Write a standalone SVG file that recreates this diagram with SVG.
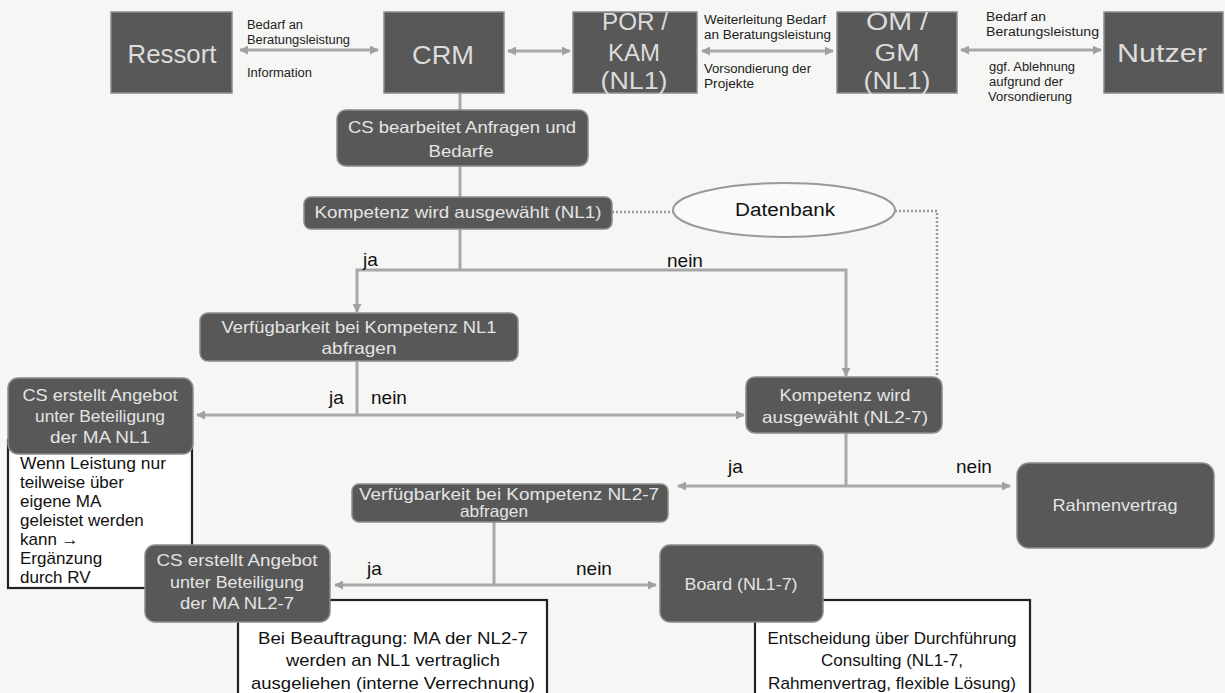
<svg xmlns="http://www.w3.org/2000/svg" width="1225" height="693" viewBox="0 0 1225 693">
<style>
.bg{fill:#f6f6f4}
.box{fill:#585858;stroke:#8c8c8c;stroke-width:1.5}
.big{font-family:"Liberation Sans",Arial,sans-serif;fill:#dcdcdc;text-anchor:middle}
.wt{font-family:"Liberation Sans",Arial,sans-serif;fill:#e4e4e4;text-anchor:middle;font-size:16.5px}
.lbl{font-family:"Liberation Sans",Arial,sans-serif;fill:#222;font-size:12.5px}
.yn{font-family:"Liberation Sans",Arial,sans-serif;fill:#111;font-size:19px}
.note{font-family:"Liberation Sans",Arial,sans-serif;fill:#111;font-size:17px}
.con{stroke:#a8a8a8;stroke-width:3;fill:none}
.dot{stroke:#999;stroke-width:2.5;fill:none;stroke-dasharray:2 2}
.nb{fill:#fff;stroke:#222;stroke-width:2.2}
</style>
<defs>
<marker id="ah" viewBox="0 0 10 10" refX="9" refY="5" markerWidth="3" markerHeight="3" orient="auto-start-reverse">
<path d="M0,0 L10,5 L0,10 z" fill="#a0a0a0"/>
</marker>
</defs>
<rect class="bg" x="0" y="0" width="1225" height="693"/>

<g id="connectors">
<line class="con" x1="240" y1="50" x2="378" y2="50" marker-start="url(#ah)" marker-end="url(#ah)"/>
<line class="con" x1="508" y1="51" x2="570" y2="51" marker-start="url(#ah)" marker-end="url(#ah)"/>
<line class="con" x1="702" y1="51" x2="833" y2="51" marker-start="url(#ah)" marker-end="url(#ah)"/>
<line class="con" x1="961" y1="50" x2="1101" y2="50" marker-start="url(#ah)" marker-end="url(#ah)"/>
<line class="con" x1="460" y1="93" x2="460" y2="110"/>
<line class="con" x1="460" y1="166" x2="460" y2="197"/>
<line class="con" x1="460" y1="229" x2="460" y2="270"/>
<polyline class="con" points="357,312 357,270 846,270 846,376" marker-start="url(#ah)" marker-end="url(#ah)"/>
<line class="con" x1="357" y1="362" x2="357" y2="415"/>
<line class="con" x1="197" y1="415" x2="744" y2="415" marker-start="url(#ah)" marker-end="url(#ah)"/>
<line class="con" x1="846" y1="433" x2="846" y2="486"/>
<line class="con" x1="678" y1="486" x2="1010" y2="486" marker-start="url(#ah)" marker-end="url(#ah)"/>
<line class="con" x1="494" y1="522" x2="494" y2="585"/>
<line class="con" x1="335" y1="585" x2="656" y2="585" marker-start="url(#ah)" marker-end="url(#ah)"/>
<line class="dot" x1="612" y1="212" x2="673" y2="212"/>
<polyline class="dot" points="895,211 937,211 937,377"/>
</g>

<g id="labels">
<text class="lbl" x="247" y="29" textLength="56" lengthAdjust="spacingAndGlyphs">Bedarf an</text>
<text class="lbl" x="247" y="44" textLength="103" lengthAdjust="spacingAndGlyphs">Beratungsleistung</text>
<text class="lbl" x="247" y="77" textLength="65" lengthAdjust="spacingAndGlyphs">Information</text>
<text class="lbl" x="704" y="24" textLength="122" lengthAdjust="spacingAndGlyphs">Weiterleitung Bedarf</text>
<text class="lbl" x="704" y="39" textLength="127" lengthAdjust="spacingAndGlyphs">an Beratungsleistung</text>
<text class="lbl" x="704" y="73" textLength="107" lengthAdjust="spacingAndGlyphs">Vorsondierung der</text>
<text class="lbl" x="704" y="88" textLength="50" lengthAdjust="spacingAndGlyphs">Projekte</text>
<text class="lbl" x="986" y="21" textLength="60" lengthAdjust="spacingAndGlyphs">Bedarf an</text>
<text class="lbl" x="986" y="36" textLength="113" lengthAdjust="spacingAndGlyphs">Beratungsleistung</text>
<text class="lbl" x="989" y="71" textLength="86" lengthAdjust="spacingAndGlyphs">ggf. Ablehnung</text>
<text class="lbl" x="989" y="86" textLength="74" lengthAdjust="spacingAndGlyphs">aufgrund der</text>
<text class="lbl" x="988" y="101" textLength="84" lengthAdjust="spacingAndGlyphs">Vorsondierung</text>
<text class="yn" x="363" y="266">ja</text>
<text class="yn" x="667" y="267">nein</text>
<text class="yn" x="329" y="404">ja</text>
<text class="yn" x="371" y="404">nein</text>
<text class="yn" x="728" y="473">ja</text>
<text class="yn" x="956" y="473">nein</text>
<text class="yn" x="367" y="575">ja</text>
<text class="yn" x="576" y="575">nein</text>
</g>

<g id="ressort"><rect class="box" x="111" y="12" width="121" height="81"/><text class="big" x="172" y="63" font-size="25" textLength="89" lengthAdjust="spacingAndGlyphs">Ressort</text></g>
<g id="crm"><rect class="box" x="384" y="12" width="120" height="81"/><text class="big" x="443" y="64" font-size="26" textLength="62" lengthAdjust="spacingAndGlyphs">CRM</text></g>
<g id="por"><rect class="box" x="573" y="12" width="124" height="81"/><text class="big" x="635" y="30" font-size="23" textLength="66" lengthAdjust="spacingAndGlyphs">POR /</text><text class="big" x="634" y="61" font-size="23" textLength="52" lengthAdjust="spacingAndGlyphs">KAM</text><text class="big" x="634" y="89" font-size="23" textLength="67" lengthAdjust="spacingAndGlyphs">(NL1)</text></g>
<g id="om"><rect class="box" x="837" y="12" width="120" height="81"/><text class="big" x="897" y="30" font-size="23" textLength="62" lengthAdjust="spacingAndGlyphs">OM /</text><text class="big" x="897" y="61" font-size="23" textLength="45" lengthAdjust="spacingAndGlyphs">GM</text><text class="big" x="897" y="89" font-size="23" textLength="67" lengthAdjust="spacingAndGlyphs">(NL1)</text></g>
<g id="nutzer"><rect class="box" x="1104" y="12" width="119" height="81"/><text class="big" x="1162" y="62" font-size="25" textLength="90" lengthAdjust="spacingAndGlyphs">Nutzer</text></g>

<g id="cs-bearbeitet"><rect class="box" x="337" y="110" width="251" height="56" rx="9"/><text class="wt" x="462" y="133" textLength="228" lengthAdjust="spacingAndGlyphs">CS bearbeitet Anfragen und</text><text class="wt" x="461" y="157" textLength="65" lengthAdjust="spacingAndGlyphs">Bedarfe</text></g>
<g id="kompetenz-nl1"><rect class="box" x="304" y="197" width="308" height="32" rx="7"/><text class="wt" x="458" y="218" textLength="287" lengthAdjust="spacingAndGlyphs">Kompetenz wird ausgewählt (NL1)</text></g>
<g id="datenbank"><ellipse cx="784" cy="210" rx="111" ry="27" fill="#fafafa" stroke="#999" stroke-width="2"/><text x="785" y="216" font-family="'Liberation Sans',Arial,sans-serif" font-size="18" fill="#111" text-anchor="middle" textLength="100" lengthAdjust="spacingAndGlyphs">Datenbank</text></g>

<g id="verf-nl1"><rect class="box" x="200" y="313" width="318" height="48" rx="8"/><text class="wt" x="359" y="333" textLength="275" lengthAdjust="spacingAndGlyphs">Verfügbarkeit bei Kompetenz NL1</text><text class="wt" x="359" y="354" textLength="75" lengthAdjust="spacingAndGlyphs">abfragen</text></g>
<g id="kompetenz-nl27"><rect class="box" x="746" y="377" width="196" height="56" rx="9"/><text class="wt" x="845" y="401" textLength="131" lengthAdjust="spacingAndGlyphs">Kompetenz wird</text><text class="wt" x="845" y="423" textLength="166" lengthAdjust="spacingAndGlyphs">ausgewählt (NL2-7)</text></g>

<g id="note-nl1"><rect class="nb" x="8" y="440" width="184" height="148"/>
<text class="note" x="20" y="469" textLength="146" lengthAdjust="spacingAndGlyphs">Wenn Leistung nur</text>
<text class="note" x="20" y="488">teilweise über</text>
<text class="note" x="20" y="507">eigene MA</text>
<text class="note" x="20" y="526">geleistet werden</text>
<text class="note" x="20" y="545">kann →</text>
<text class="note" x="20" y="564">Ergänzung</text>
<text class="note" x="20" y="583">durch RV</text></g>
<g id="cs-nl1"><rect class="box" x="8" y="378" width="185" height="76" rx="10"/><text class="wt" x="100" y="401" textLength="155" lengthAdjust="spacingAndGlyphs">CS erstellt Angebot</text><text class="wt" x="100" y="422" textLength="130" lengthAdjust="spacingAndGlyphs">unter Beteiligung</text><text class="wt" x="100" y="443" textLength="100" lengthAdjust="spacingAndGlyphs">der MA NL1</text></g>

<g id="verf-nl27"><rect class="box" x="352" y="484" width="316" height="38" rx="7"/><text class="wt" x="509" y="500" textLength="300" lengthAdjust="spacingAndGlyphs">Verfügbarkeit bei Kompetenz  NL2-7</text><text class="wt" x="494" y="517" textLength="68" lengthAdjust="spacingAndGlyphs">abfragen</text></g>
<g id="rahmenvertrag"><rect class="box" x="1017" y="463" width="197" height="85" rx="12"/><text class="wt" x="1115" y="511" textLength="125" lengthAdjust="spacingAndGlyphs">Rahmenvertrag</text></g>

<g id="note-nl27"><rect class="nb" x="238" y="600" width="309" height="100"/>
<text class="note" x="393" y="644" text-anchor="middle" textLength="270" lengthAdjust="spacingAndGlyphs">Bei Beauftragung: MA der NL2-7</text>
<text class="note" x="393" y="666" text-anchor="middle" textLength="214" lengthAdjust="spacingAndGlyphs">werden an NL1 vertraglich</text>
<text class="note" x="393" y="689" text-anchor="middle" textLength="284" lengthAdjust="spacingAndGlyphs">ausgeliehen (interne Verrechnung)</text></g>
<g id="cs-nl27"><rect class="box" x="145" y="545" width="185" height="77" rx="10"/><text class="wt" x="237" y="566" textLength="161" lengthAdjust="spacingAndGlyphs">CS erstellt Angebot</text><text class="wt" x="237" y="588" textLength="134" lengthAdjust="spacingAndGlyphs">unter Beteiligung</text><text class="wt" x="237" y="609" textLength="114" lengthAdjust="spacingAndGlyphs">der MA NL2-7</text></g>

<g id="note-board"><rect class="nb" x="755" y="600" width="275" height="100"/>
<text class="note" x="892" y="644" text-anchor="middle" textLength="249" lengthAdjust="spacingAndGlyphs">Entscheidung über Durchführung</text>
<text class="note" x="892" y="666" text-anchor="middle" textLength="142" lengthAdjust="spacingAndGlyphs">Consulting (NL1-7,</text>
<text class="note" x="892" y="689" text-anchor="middle" textLength="248" lengthAdjust="spacingAndGlyphs">Rahmenvertrag, flexible Lösung)</text></g>
<g id="board"><rect class="box" x="660" y="545" width="163" height="77" rx="10"/><text class="wt" x="741" y="590" textLength="113" lengthAdjust="spacingAndGlyphs">Board (NL1-7)</text></g>
</svg>
